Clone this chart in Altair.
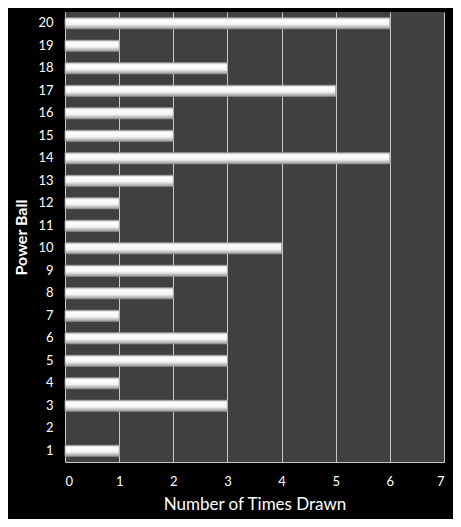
import altair as alt
import pandas as pd

balls = [str(i) for i in range(1, 21)]
times = [1, 0, 3, 1, 3, 3, 1, 2, 3, 4, 1, 1, 2, 6, 2, 2, 5, 3, 1, 6]
x_ticks = [0, 1, 2, 3, 4, 5, 6, 7]

df = pd.DataFrame({"ball": balls, "times": times})
order = list(reversed(balls))

grad = alt.Gradient(
    gradient="linear",
    stops=[
        alt.GradientStop(color="#c4c4c4", offset=0),
        alt.GradientStop(color="#ffffff", offset=0.2),
        alt.GradientStop(color="#f4f4f4", offset=0.6),
        alt.GradientStop(color="#9a9a9a", offset=1),
    ],
    x1=0, x2=0, y1=0, y2=1,
)

chart = alt.Chart(df).mark_bar(
    color=grad, stroke="#a0a0a0", strokeWidth=0.8, size=11
).encode(
    x=alt.X("times:Q", title="Number of Times Drawn",
            scale=alt.Scale(domain=[0, 7], nice=False),
            axis=alt.Axis(values=x_ticks, format="d", labelOverlap=False,
                          grid=True, gridColor="#c8c8c8", gridWidth=1,
                          ticks=False, domain=True, domainColor="#c8c8c8",
                          labelColor="white", labelFontSize=13, labelPadding=13,
                          titleColor="white", titleFontSize=17, titleFontWeight="normal",
                          titlePadding=8, labelFont="Lato", titleFont="Lato")),
    y=alt.Y("ball:N", title="Power Ball", sort=order,
            scale=alt.Scale(paddingInner=0.5, paddingOuter=0.25),
            axis=alt.Axis(grid=False, ticks=False, domain=False,
                          labelColor="white", labelFontSize=13, labelPadding=12,
                          titleColor="white", titleFontSize=16, titleFontWeight="bold",
                          titlePadding=8, labelFont="Lato", titleFont="Lato")),
    strokeOpacity=alt.condition("datum.times > 0", alt.value(1), alt.value(0)),
).properties(
    width=379, height=450, background="black",
    padding={"left": 57, "top": 4, "right": 9, "bottom": 57},
    autosize=alt.AutoSizeParams(type="none"),
).configure_view(fill="#404040", stroke=None)

chart.save("out.html", embed_options={"renderer": "svg", "actions": False})
